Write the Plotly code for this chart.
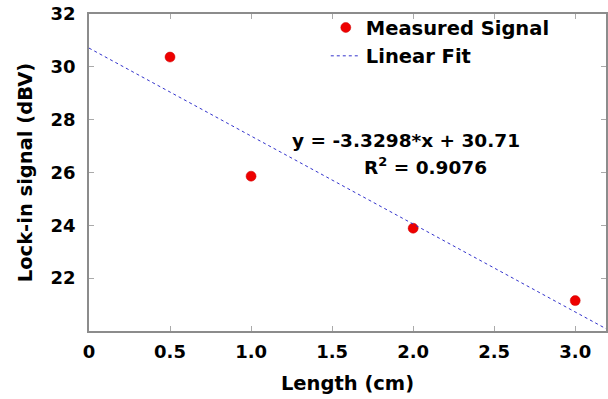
import plotly.graph_objects as go

length_cm = [0.5, 1.0, 2.0, 3.0]
signal_dbv = [30.37, 25.86, 23.89, 21.15]
fit_slope = -3.3298
fit_intercept = 30.71
fit_r2 = 0.9076
x_range = [0, 3.19]
y_range = [20, 32]
x_tickvals = [0, 0.5, 1.0, 1.5, 2.0, 2.5, 3.0]
x_ticktext = ["0", "0.5", "1.0", "1.5", "2.0", "2.5", "3.0"]
y_tickvals = [22, 24, 26, 28, 30, 32]

fit_x = [x_range[0], x_range[1]]
fit_y = [fit_intercept + fit_slope * v for v in fit_x]

FONT = "DejaVu Sans, Arial, sans-serif"

fig = go.Figure()
fig.add_trace(go.Scatter(
    x=length_cm, y=signal_dbv, mode="markers", name="Measured Signal",
    marker=dict(color="#ee0000", size=10, line=dict(color="#cc0000", width=0.5)),
))
fig.add_trace(go.Scatter(
    x=fit_x, y=fit_y, mode="lines", name="Linear Fit",
    line=dict(color="#3333cc", width=1, dash="3px,3px"),
))

ann_font = dict(family=FONT, size=18.5, color="black", weight="bold")
fig.add_annotation(
    x=0.613, y=0.600, xref="paper", yref="paper", showarrow=False,
    text=f"y = {fit_slope}*x + {fit_intercept}", font=ann_font,
)
fig.add_annotation(
    x=0.650, y=0.522, xref="paper", yref="paper", showarrow=False,
    text=f"R<sup>2</sup> = {fit_r2}", font=ann_font,
)

axis_common = dict(
    showgrid=False, zeroline=False, showline=True, linecolor="#8c8c8c", linewidth=1.5,
    mirror="ticks", ticks="inside", ticklen=5, tickcolor="#aaaaaa", tickwidth=1,
    tickfont=dict(family=FONT, size=18, color="black", weight="bold"),
    automargin=False,
)
title_font = dict(family=FONT, size=19.5, color="black", weight="bold")

fig.update_xaxes(
    range=x_range, tickvals=x_tickvals, ticktext=x_ticktext, ticklabelstandoff=4,
    title=dict(text="Length (cm)", font=title_font, standoff=15),
    **axis_common,
)
fig.update_yaxes(
    range=y_range, tickvals=y_tickvals, ticklabelstandoff=8,
    title=dict(text="Lock-in signal (dBV)", font=title_font, standoff=13),
    **axis_common,
)

fig.update_layout(
    width=608, height=399,
    margin=dict(l=89, r=2, t=14, b=68),
    paper_bgcolor="white", plot_bgcolor="white",
    legend=dict(
        x=0.458, y=1.018, xanchor="left", yanchor="top",
        bgcolor="rgba(0,0,0,0)", itemwidth=30,
        font=dict(family=FONT, size=19.5, color="black", weight="bold"),
        tracegroupgap=0,
    ),
    showlegend=True,
)

fig.write_html(
    "out.html",
    config={"displayModeBar": False},
    post_script="document.body.style.margin='0';document.body.style.overflow='hidden';",
)
